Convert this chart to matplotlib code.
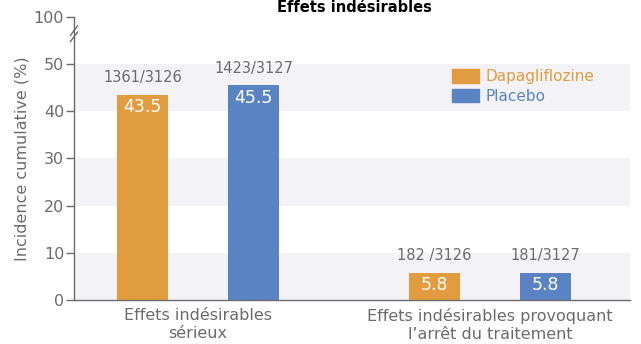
import numpy as np
import matplotlib.pyplot as plt
from matplotlib.patches import Patch

plt.rcParams['font.family'] = ['DejaVu Sans']

categories = ['Effets indésirables\nsérieux', 'Effets indésirables provoquant\nl’arrêt du traitement']
dapa = [43.5, 5.8]
placebo = [45.5, 5.8]
dapa_counts = ['1361/3126', '182 /3126']
placebo_counts = ['1423/3127', '181/3127']
ytick_vals = [0, 10, 20, 30, 40, 50, 60]
ytick_labels = ['0', '10', '20', '30', '40', '50', '100']

orange = '#E09C3F'
blue = '#5A83C4'
grey = '#6b6b6b'

fig = plt.figure(figsize=(6.41, 3.44), dpi=100)
ax = fig.add_axes([0.1154, 0.1279, 0.8674, 0.8227])

x = np.arange(len(categories))
w = 0.175
off = 0.19

# background bands
for lo, hi in [(0, 10), (20, 30), (40, 50)]:
    ax.axhspan(lo, hi, color='#f3f3f7', zorder=0, lw=0)

ax.bar(x - off, dapa, w, color=orange, zorder=2)
ax.bar(x + off, placebo, w, color=blue, zorder=2)

for xs, vals, counts in [(x - off, dapa, dapa_counts), (x + off, placebo, placebo_counts)]:
    for xi, v, c in zip(xs, vals, counts):
        ax.text(xi, v - 2.6, f'{v}', ha='center', va='center', color='white', fontsize=12.5, zorder=3)
        ax.text(xi, v + 3.6, c, ha='center', va='center', color=grey, fontsize=10.5)

ax.set_xlim(-0.425, 1.479)
ax.set_ylim(0, 60)
ax.set_yticks(ytick_vals)
ax.set_yticklabels(ytick_labels)
ax.set_xticks(x)
ax.set_xticklabels(categories, fontsize=11.5, color=grey, linespacing=1.2)
ax.tick_params(axis='x', length=0, pad=6)
ax.tick_params(axis='y', length=6, width=1, color=grey, labelcolor=grey, labelsize=11.5, pad=1)
ax.set_ylabel('Incidence cumulative (%)', fontsize=11.5, color=grey, labelpad=3)

for s in ['top', 'right']:
    ax.spines[s].set_visible(False)
for s in ['left', 'bottom']:
    ax.spines[s].set_color(grey)
    ax.spines[s].set_linewidth(1)
ax.set_facecolor('none')

# axis break marks
for dy in (0, 1.3):
    ax.plot([-0.437, -0.413], [54.8 + dy, 56.8 + dy], color=grey, lw=1, clip_on=False)

handles = [Patch(color=orange, label='Dapagliflozine'), Patch(color=blue, label='Placebo')]
leg = ax.legend(handles=handles, loc='upper left', bbox_to_anchor=(0.655, 0.865), frameon=False,
                fontsize=11, handlelength=1.8, handleheight=1.0, handletextpad=0.4, labelspacing=0.3)
for t, c in zip(leg.get_texts(), [orange, blue]):
    t.set_color(c)

fig.text(0.553, 0.999, 'Effets indésirables', ha='center', va='top', fontsize=10.5, fontweight='bold')

fig.savefig('out.png', dpi=100)
